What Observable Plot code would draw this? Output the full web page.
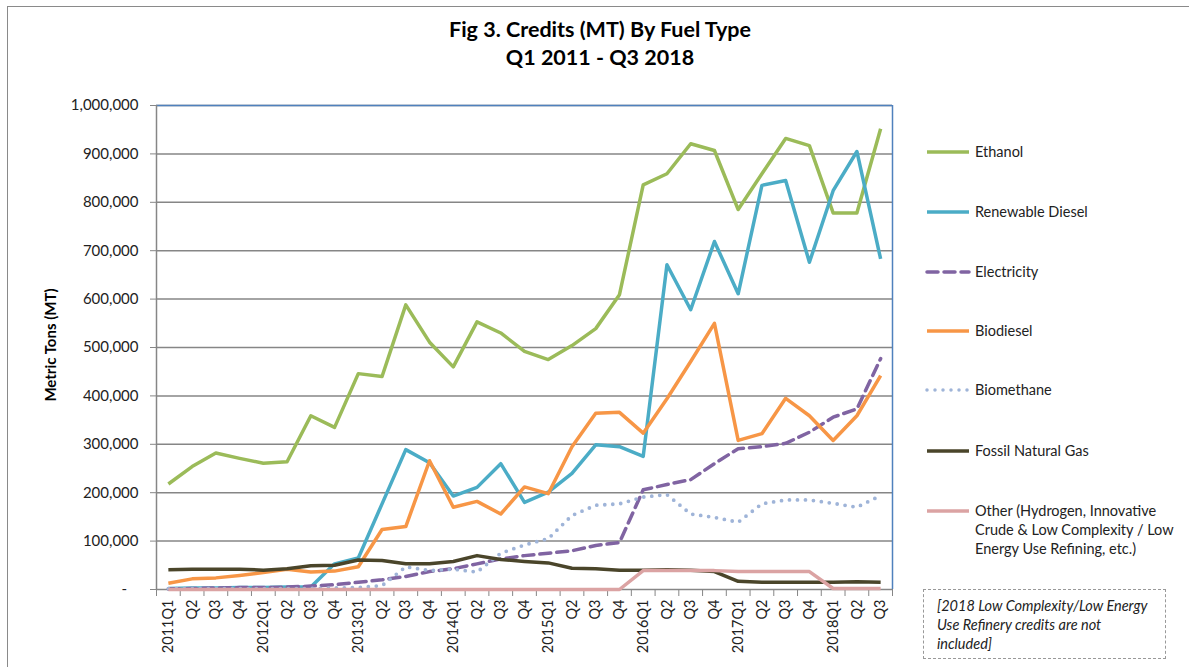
<!DOCTYPE html>
<html><head><meta charset="utf-8">
<script src="https://cdn.jsdelivr.net/npm/d3@7"></script>
<script src="https://cdn.jsdelivr.net/npm/@observablehq/plot@0.6"></script>
<style>
body{margin:0;background:#fff;font-family:Lato,"Open Sans",sans-serif;}
#wrap{position:relative;width:1189px;height:667px;overflow:hidden;background:#fff}
#frame{position:absolute;left:7px;top:6px;width:1240px;height:720px;border:1.5px solid #8a8a8a;box-sizing:border-box}
#title{position:absolute;left:0;top:15px;width:1200px;text-align:center;font-weight:bold;font-size:21.5px;line-height:28px;color:#000}
#ytitle{position:absolute;left:50px;top:345px;width:0;height:0}
#ytitle div{position:absolute;left:0;top:0;transform:translate(-50%,-50%) rotate(-90deg);font-weight:bold;font-size:15px;white-space:nowrap;color:#000}
#chart{position:absolute;left:0;top:0}
.leg{position:absolute;left:925px;display:flex;align-items:flex-start;font-size:14.5px;color:#222;line-height:19px}
.leg svg{flex:none;margin-top:0px}
.leg span{margin-left:4px}
#note{position:absolute;left:923px;top:589px;width:243px;height:70px;box-sizing:border-box;border:1.3px dashed #999;font-style:italic;font-size:14.5px;line-height:19px;padding:6px 0 0 13px;color:#222}
</style></head>
<body><div id="wrap"><div id="frame"></div><div id="chart"></div>
<div id="title">Fig 3. Credits (MT) By Fuel Type<br>Q1 2011 - Q3 2018</div>
<div id="ytitle"><div>Metric Tons (MT)</div></div>
<div id="note">[2018 Low Complexity/Low Energy<br>Use Refinery credits are not<br>included]</div>
</div>
<script>
const quarters = ["2011Q1","Q2","Q3","Q4","2012Q1","Q2","Q3","Q4","2013Q1","Q2","Q3","Q4","2014Q1","Q2","Q3","Q4","2015Q1","Q2","Q3","Q4","2016Q1","Q2","Q3","Q4","2017Q1","Q2","Q3","Q4","2018Q1","Q2","Q3"];
const ethanol = [218,254,282,271,261,264,359,335,446,440,588,511,460,553,530,492,475,504,539,609,836,859,921,907,785,859,932,917,778,778,952];
const renewableDiesel = [2,3,3,4,4,5,5,53,65,177,289,262,193,211,260,180,201,240,299,295,275,671,578,719,611,835,845,676,824,905,683];
const electricity = [1,2,3,4,4,5,7,10,15,20,27,37,43,53,63,70,75,80,91,97,206,217,227,260,291,295,302,325,356,373,477];
const biodiesel = [13,22,24,29,35,42,36,38,47,124,130,266,170,182,156,212,198,295,364,366,323,394,471,550,308,322,395,359,308,359,442];
const biomethane = [2,2,2,2,2,2,2,3,4,8,47,39,42,36,75,92,105,153,174,177,191,196,156,149,139,177,185,185,178,170,194];
const fossilNaturalGas = [41,42,42,42,40,43,49,50,61,60,53,53,58,70,62,58,55,44,43,40,40,41,40,37,17,15,15,15,15,16,15];
const other = [0,0,0,0,0,0,0,0,0,0,0,0,0,0,0,0,0,0,0,0,39,39,39,39,37,37,37,37,2,2,2];
const yTicks = [0,100000,200000,300000,400000,500000,600000,700000,800000,900000,1000000];

const series = [
  {name:"Ethanol", values:ethanol, color:"#9BBB59", dash:null, cap:"butt"},
  {name:"Renewable Diesel", values:renewableDiesel, color:"#4BACC6", dash:null, cap:"butt"},
  {name:"Electricity", values:electricity, color:"#8064A2", dash:"11,6", cap:"round"},
  {name:"Biodiesel", values:biodiesel, color:"#F79646", dash:null, cap:"butt"},
  {name:"Biomethane", values:biomethane, color:"#9FB4D8", dash:"0,8", cap:"round"},
  {name:"Fossil Natural Gas", values:fossilNaturalGas, color:"#4A452A", dash:null, cap:"butt"},
  {name:"Other (Hydrogen, Innovative<br>Crude & Low Complexity / Low<br>Energy Use Refining, etc.)", values:other, color:"#DBA3A3", dash:null, cap:"butt"}
];
const legendY = [152,212,272,331,390,451,511];

const idx = quarters.map((_, i) => i);
const bounds = d3.range(-0.5, quarters.length, 1);

const lineMarks = series.map(s => Plot.lineY(s.values.map((v, i) => ({i, v: v * 1000})), {
  x: "i", y: "v", stroke: s.color, strokeWidth: s.dash === "0,8" ? 3.8 : 3.5,
  strokeDasharray: s.dash, strokeLinecap: s.cap, strokeLinejoin: "round"
}));

const plot = Plot.plot({
  width: 1189, height: 667,
  marginLeft: 156, marginRight: 297, marginTop: 105, marginBottom: 78,
  style: {fontFamily: "Lato, 'Open Sans', sans-serif", fontSize: "15px", color: "#222", background: "transparent"},
  x: {domain: [-0.5, quarters.length - 0.5]},
  y: {domain: [0, 1000000]},
  marks: [
    Plot.gridY(yTicks, {stroke: "#868686", strokeOpacity: 1, strokeWidth: 1.5}),
    Plot.ruleY([1000000], {stroke: "#4F81BD", strokeWidth: 1.5}),
    Plot.ruleX([quarters.length - 0.5], {stroke: "#4F81BD", strokeWidth: 1.5}),
    Plot.ruleX([-0.5], {stroke: "#868686", strokeWidth: 1.5}),
    Plot.axisY(yTicks, {tickSize: 6, tickPadding: 12, stroke: "#868686", label: null,
      tickFormat: d => d === 0 ? "-\u00a0\u00a0\u00a0" : d3.format(",")(d)}),
    Plot.axisX(bounds, {tickSize: 7, tickFormat: () => "", stroke: "#868686", label: null}),
    Plot.axisX(idx, {tickSize: 0, tickPadding: 10, tickRotate: -90, tickFormat: i => quarters[i], label: null, fontSize: 14.5}),
    ...lineMarks
  ]
});
document.getElementById("chart").appendChild(plot);

const wrap = document.getElementById("wrap");
series.forEach((s, k) => {
  const d = document.createElement("div");
  d.className = "leg";
  d.style.top = (legendY[k] - 10) + "px";
  const dash = s.dash ? `stroke-dasharray="${s.dash}"` : "";
  d.innerHTML = `<svg width="46" height="20"><line x1="2" x2="44" y1="10" y2="10" stroke="${s.color}" stroke-width="3.5" stroke-linecap="${s.cap}" ${dash}/></svg><span>${s.name.replace(/&(?!amp)/g,"&amp;")}</span>`;
  wrap.appendChild(d);
});
</script></body></html>
